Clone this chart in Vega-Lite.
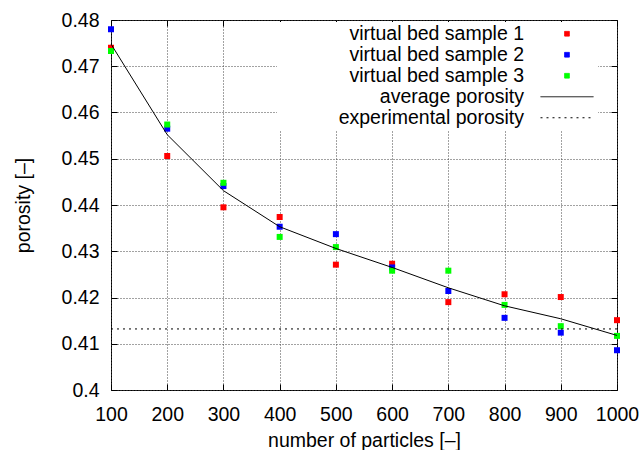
{
  "$schema": "https://vega.github.io/schema/vega-lite/v6.json",
  "width": 506,
  "height": 370,
  "autosize": {"type": "none"},
  "padding": {"left": 111, "top": 20, "right": 23, "bottom": 60},
  "background": "white",
  "datasets": {
    "samples": [
      {"n": 100, "porosity": 0.4740, "series": "virtual bed sample 1"},
      {"n": 200, "porosity": 0.4506, "series": "virtual bed sample 1"},
      {"n": 300, "porosity": 0.4395, "series": "virtual bed sample 1"},
      {"n": 400, "porosity": 0.4374, "series": "virtual bed sample 1"},
      {"n": 500, "porosity": 0.4271, "series": "virtual bed sample 1"},
      {"n": 600, "porosity": 0.4273, "series": "virtual bed sample 1"},
      {"n": 700, "porosity": 0.4190, "series": "virtual bed sample 1"},
      {"n": 800, "porosity": 0.4207, "series": "virtual bed sample 1"},
      {"n": 900, "porosity": 0.4201, "series": "virtual bed sample 1"},
      {"n": 1000, "porosity": 0.4151, "series": "virtual bed sample 1"},
      {"n": 100, "porosity": 0.4780, "series": "virtual bed sample 2"},
      {"n": 200, "porosity": 0.4565, "series": "virtual bed sample 2"},
      {"n": 300, "porosity": 0.4441, "series": "virtual bed sample 2"},
      {"n": 400, "porosity": 0.4353, "series": "virtual bed sample 2"},
      {"n": 500, "porosity": 0.4337, "series": "virtual bed sample 2"},
      {"n": 600, "porosity": 0.4265, "series": "virtual bed sample 2"},
      {"n": 700, "porosity": 0.4214, "series": "virtual bed sample 2"},
      {"n": 800, "porosity": 0.4156, "series": "virtual bed sample 2"},
      {"n": 900, "porosity": 0.4124, "series": "virtual bed sample 2"},
      {"n": 1000, "porosity": 0.4086, "series": "virtual bed sample 2"},
      {"n": 100, "porosity": 0.4733, "series": "virtual bed sample 3"},
      {"n": 200, "porosity": 0.4574, "series": "virtual bed sample 3"},
      {"n": 300, "porosity": 0.4448, "series": "virtual bed sample 3"},
      {"n": 400, "porosity": 0.4331, "series": "virtual bed sample 3"},
      {"n": 500, "porosity": 0.4309, "series": "virtual bed sample 3"},
      {"n": 600, "porosity": 0.4258, "series": "virtual bed sample 3"},
      {"n": 700, "porosity": 0.4258, "series": "virtual bed sample 3"},
      {"n": 800, "porosity": 0.4184, "series": "virtual bed sample 3"},
      {"n": 900, "porosity": 0.4138, "series": "virtual bed sample 3"},
      {"n": 1000, "porosity": 0.4117, "series": "virtual bed sample 3"}
    ],
    "average": [
      {"n": 100, "porosity": 0.4748, "series": "average porosity"},
      {"n": 200, "porosity": 0.4552, "series": "average porosity"},
      {"n": 300, "porosity": 0.4431, "series": "average porosity"},
      {"n": 400, "porosity": 0.4353, "series": "average porosity"},
      {"n": 500, "porosity": 0.4306, "series": "average porosity"},
      {"n": 600, "porosity": 0.4265, "series": "average porosity"},
      {"n": 700, "porosity": 0.4221, "series": "average porosity"},
      {"n": 800, "porosity": 0.4182, "series": "average porosity"},
      {"n": 900, "porosity": 0.4154, "series": "average porosity"},
      {"n": 1000, "porosity": 0.4118, "series": "average porosity"}
    ],
    "experimental": [
      {"n": 100, "porosity": 0.4132, "series": "experimental porosity"},
      {"n": 1000, "porosity": 0.4132, "series": "experimental porosity"}
    ]
  },
  "resolve": {"axis": {"x": "independent", "y": "independent"}},
  "layer": [
    {
      "data": {"name": "samples"},
      "mark": {"type": "point", "shape": "square", "filled": true, "size": 36, "opacity": 1},
      "encoding": {
        "x": {
          "field": "n", "type": "quantitative",
          "scale": {"domain": [100, 1000], "nice": false, "zero": false},
          "axis": {"orient": "bottom", "title": "number of particles [–]", "values": [100, 200, 300, 400, 500, 600, 700, 800, 900, 1000], "format": "d", "labelPadding": 21, "titlePadding": 8, "labelFlush": false}
        },
        "y": {
          "field": "porosity", "type": "quantitative",
          "scale": {"domain": [0.4, 0.48], "nice": false, "zero": false},
          "axis": {"orient": "left", "title": "porosity [–]", "values": [0.4, 0.41, 0.42, 0.43, 0.44, 0.45, 0.46, 0.47, 0.48], "format": ".2~f", "labelPadding": 18, "titlePadding": 28}
        },
        "color": {
          "field": "series", "type": "nominal",
          "scale": {
            "domain": ["virtual bed sample 1", "virtual bed sample 2", "virtual bed sample 3", "average porosity", "experimental porosity"],
            "range": ["#ff0000", "#0000ff", "#00ff00", "#000000", "#000000"]
          },
          "legend": {
            "title": null,
            "orient": "none",
            "legendX": 166,
            "legendY": 2,
            "padding": 2,
            "fillColor": "white",
            "labelLimit": 400,
            "rowPadding": 0,
            "encoding": {
              "symbols": {
                "shape": {"value": {"expr": "datum.value == 'average porosity' || datum.value == 'experimental porosity' ? 'stroke' : 'square'"}},
                "size": {"value": {"expr": "datum.value == 'average porosity' || datum.value == 'experimental porosity' ? 2809 : 22"}},
                "fill": {"value": {"expr": "datum.value == 'virtual bed sample 1' ? '#ff0000' : datum.value == 'virtual bed sample 2' ? '#0000ff' : datum.value == 'virtual bed sample 3' ? '#00ff00' : 'transparent'"}},
                "stroke": {"value": {"expr": "datum.value == 'average porosity' || datum.value == 'experimental porosity' ? '#000000' : 'transparent'"}},
                "strokeDash": {"value": {"expr": "datum.value == 'experimental porosity' ? [2, 4] : [1, 0]"}},
                "strokeWidth": {"value": 1},
                "opacity": {"value": 1},
                "x": {"value": 288}
              },
              "labels": {
                "x": {"value": 245},
                "align": {"value": "right"}
              }
            }
          }
        }
      }
    },
    {
      "data": {"name": "average"},
      "mark": {"type": "line", "strokeWidth": 1},
      "encoding": {
        "x": {"field": "n", "type": "quantitative", "axis": null},
        "y": {"field": "porosity", "type": "quantitative", "axis": null},
        "color": {"field": "series", "type": "nominal"}
      }
    },
    {
      "data": {"name": "experimental"},
      "mark": {"type": "line", "strokeWidth": 1, "strokeDash": [2, 4]},
      "encoding": {
        "x": {"field": "n", "type": "quantitative", "axis": {"orient": "top", "labels": false, "grid": false, "title": null, "values": [100, 200, 300, 400, 500, 600, 700, 800, 900, 1000]}},
        "y": {"field": "porosity", "type": "quantitative", "axis": {"orient": "right", "labels": false, "grid": false, "title": null, "values": [0.4, 0.41, 0.42, 0.43, 0.44, 0.45, 0.46, 0.47, 0.48]}},
        "color": {"field": "series", "type": "nominal"}
      }
    }
  ],
  "config": {
    "font": "Liberation Sans",
    "view": {"stroke": "black", "strokeWidth": 1},
    "axis": {
      "labelFont": "Liberation Sans",
      "labelFontSize": 19.5,
      "labelColor": "black",
      "titleFont": "Liberation Sans",
      "titleFontSize": 19.5,
      "titleFontWeight": "normal",
      "titleColor": "black",
      "tickColor": "black",
      "tickSize": -6,
      "tickWidth": 1,
      "domain": false,
      "grid": true,
      "gridColor": "#444444",
      "gridDash": [1, 2],
      "gridOpacity": 1,
      "gridWidth": 1
    },
    "legend": {
      "labelFont": "Liberation Sans",
      "labelFontSize": 19.5,
      "labelColor": "black"
    }
  }
}
